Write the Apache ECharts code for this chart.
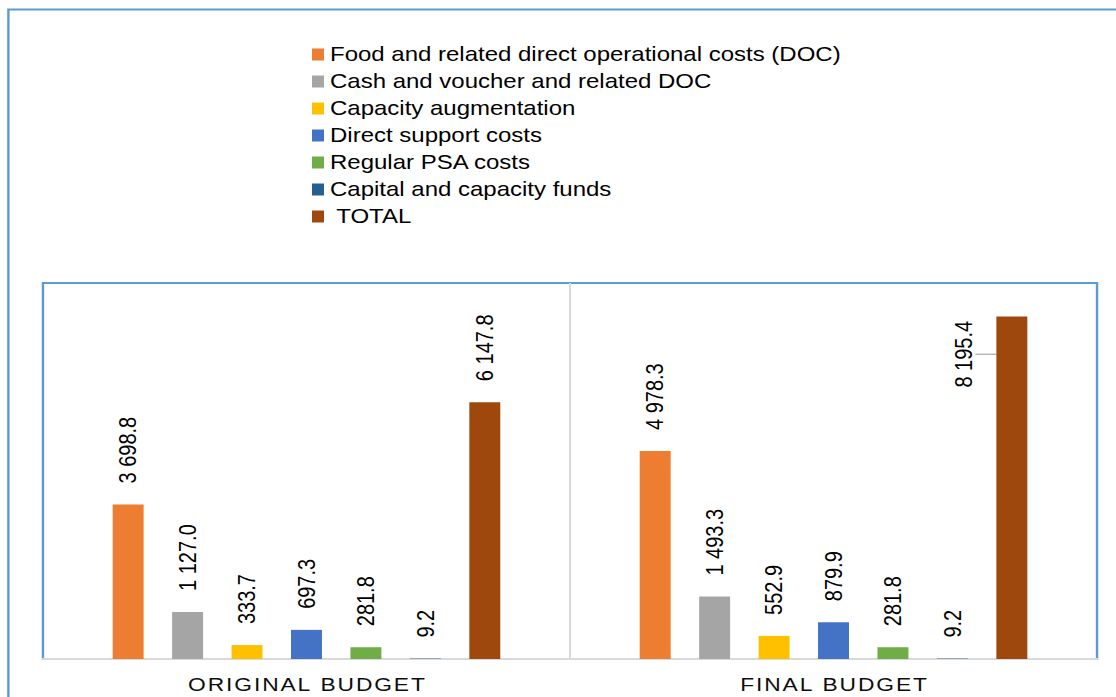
<!DOCTYPE html>
<html>
<head>
<meta charset="utf-8">
<script src="https://cdn.jsdelivr.net/npm/echarts@6/dist/echarts.min.js"></script>
<style>
  html, body { margin: 0; padding: 0; background: #fff; overflow: hidden; }
  #chart { width: 930px; height: 697px; transform: scaleX(1.2); transform-origin: 0 0; }
</style>
</head>
<body>
<div id="chart"></div>
<script>
// Budget categories (x axis)
const categories = ['ORIGINAL BUDGET', 'FINAL BUDGET'];

// Cost lines, in the order they appear in the legend
const seriesNames = [
  'Food and related direct operational costs (DOC)',
  'Cash and voucher and related DOC',
  'Capacity augmentation',
  'Direct support costs',
  'Regular PSA costs',
  'Capital and capacity funds',
  ' TOTAL'
];

// Values per budget (original, final)
const foodDoc        = [3698.8, 4978.3];
const cashVoucherDoc = [1127.0, 1493.3];
const capacityAug    = [333.7, 552.9];
const directSupport  = [697.3, 879.9];
const regularPsa     = [281.8, 281.8];
const capitalFunds   = [9.2, 9.2];
const totals         = [6147.8, 8195.4];

const seriesValues = [foodDoc, cashVoucherDoc, capacityAug, directSupport, regularPsa, capitalFunds, totals];
const seriesColors = ['#ED7D31', '#A5A5A5', '#FFC000', '#4472C4', '#70AD47', '#255E91', '#9E480E'];

const FONT = "'Liberation Sans', Arial, sans-serif";

function fmt(v) {
  return Number(v).toFixed(1).replace(/\B(?=(\d{3})+(?!\d))/g, ' ');
}

const series = seriesNames.map((name, si) => ({
  name: name,
  type: 'bar',
  barWidth: 25.8,
  barGap: '92%',
  itemStyle: { color: seriesColors[si] },
  label: {
    show: true,
    position: 'top',
    rotate: 90,
    align: 'left',
    verticalAlign: 'middle',
    distance: 21,
    fontFamily: FONT,
    fontSize: 20,
    color: '#000',
    formatter: p => fmt(p.value)
  },
  data: seriesValues[si].map((v, di) => {
    // the final total label sits beside its bar, tied to it by a leader line
    if (si === seriesNames.length - 1 && di === 1) {
      return {
        value: v,
        label: { position: [-27.5, 71] },
        labelLine: { show: true, lineStyle: { color: '#A6A6A6', width: 1.2 } }
      };
    }
    return v;
  })
}));

const chart = echarts.init(document.getElementById('chart'), null, { renderer: 'svg' });
chart.setOption({
  animation: false,
  backgroundColor: '#fff',
  graphic: [{
    type: 'rect',
    silent: true,
    shape: { x: 7, y: 9.5, width: 1200, height: 1200 },
    style: { fill: 'none', stroke: '#5B9BD5', lineWidth: 2 }
  }],
  legend: {
    orient: 'vertical',
    left: 260,
    top: 43.5,
    padding: 0,
    itemWidth: 10,
    itemHeight: 12,
    itemGap: 5,
    icon: 'rect',
    textStyle: { fontFamily: FONT, fontSize: 20, lineHeight: 22, color: '#000' },
    data: seriesNames
  },
  grid: {
    show: true,
    left: 35.8,
    right: 15.8,
    top: 283,
    bottom: 38,
    borderColor: '#5B9BD5',
    borderWidth: 2
  },
  xAxis: {
    type: 'category',
    data: categories,
    axisLine: { show: true, lineStyle: { color: '#D9D9D9', width: 2 } },
    axisTick: { show: false },
    splitLine: {
      show: true,
      interval: 0,
      showMinLine: false,
      showMaxLine: false,
      lineStyle: { color: '#D9D9D9', width: 1.7 }
    },
    axisLabel: {
      margin: 16,
      fontFamily: FONT,
      fontSize: 19,
      color: '#0D0D0D',
      formatter: v => v.split('').join('\u200A')
    }
  },
  yAxis: {
    type: 'value',
    min: 0,
    max: 9000,
    show: false,
    splitLine: { show: false }
  },
  series: series
});
</script>
</body>
</html>
